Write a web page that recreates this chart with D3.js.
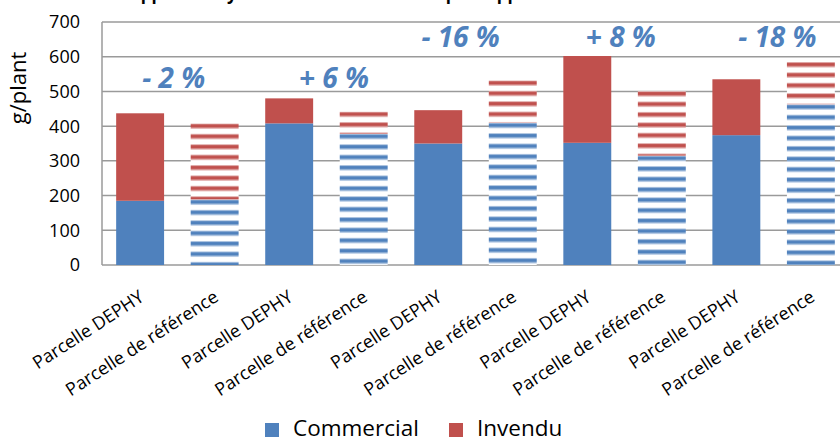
<!DOCTYPE html>
<html><head><meta charset="utf-8">
<script src="https://cdn.jsdelivr.net/npm/d3@7"></script>
<style>
body{margin:0;background:#fff;}
svg{display:block;font-family:"Open Sans","Noto Sans",sans-serif;}
</style></head>
<body><svg id="c" width="840" height="439"></svg>
<script>
const categories = ["Parcelle DEPHY","Parcelle de référence","Parcelle DEPHY","Parcelle de référence","Parcelle DEPHY","Parcelle de référence","Parcelle DEPHY","Parcelle de référence","Parcelle DEPHY","Parcelle de référence"];
const isReference = [false,true,false,true,false,true,false,true,false,true];
const commercial = [185,189,408,378,350,410,352,315,374,463];
const invendu = [252,219,72,64,96,122,250,186,161,122];
const yTicks = [0,100,200,300,400,500,600,700];
const diffLabels = ["- 2 %","+ 6 %","- 16 %","+ 8 %","- 18 %"];
const diffLabelValues = [510,510,628,628,628];
const diffLabelPos = [0.45,2.6,4.3,6.45,8.55];
const seriesNames = ["Commercial","Invendu"];
const colors = ["#4F81BD","#C0504D"];
const title = "Apport du système de culture DEPHY par rapport à la référence";

const svg = d3.select("#c");
const x = d3.scaleBand().domain(d3.range(categories.length)).range([102,849]).paddingInner(0.357).paddingOuter(0.19);
const y = d3.scaleLinear().domain([0,700]).range([265,22]);
const xc = d3.scaleLinear().domain([0,categories.length-1]).range([x(0)+x.bandwidth()/2, x(categories.length-1)+x.bandwidth()/2]);

const defs = svg.append("defs");
const period = 10.4;
function stripePattern(id, c, y0){
  const p = defs.append("pattern").attr("id",id).attr("patternUnits","userSpaceOnUse")
    .attr("width",20).attr("height",period).attr("y",y0);
  p.append("rect").attr("width",20).attr("height",period).attr("fill","#fff");
  p.append("rect").attr("y",0).attr("width",20).attr("height",1).attr("fill",c).attr("opacity",0.45);
  p.append("rect").attr("y",1).attr("width",20).attr("height",3.4).attr("fill",c);
  p.append("rect").attr("y",4.4).attr("width",20).attr("height",1.2).attr("fill",c).attr("opacity",0.4);
}

// title (cropped at top)
svg.append("text").attr("x",397).attr("y",0).attr("text-anchor","middle")
  .attr("font-size",17).attr("font-weight","bold").attr("fill","#000").text(title);

// gridlines
svg.append("g").selectAll("line").data(yTicks).join("line")
  .attr("x1",102).attr("x2",840).attr("y1",d=>y(d)).attr("y2",d=>y(d))
  .attr("stroke","#9a9a9a").attr("stroke-width",1.5);
svg.append("line").attr("x1",102).attr("x2",102).attr("y1",y(700)).attr("y2",y(0))
  .attr("stroke","#9a9a9a").attr("stroke-width",1.5);

// y axis labels
svg.append("g").selectAll("text").data(yTicks).join("text")
  .attr("x",80).attr("y",d=>y(d)).attr("dy","0.36em").attr("text-anchor","end")
  .attr("font-size",18).attr("fill","#000").text(d=>d);
svg.append("text").attr("transform","translate(26,88) rotate(-90)").attr("text-anchor","middle")
  .attr("font-size",22).attr("fill","#000").text("g/plant");

// bars
const data = categories.map((c,i)=>({i, c, ref:isReference[i], v:[commercial[i], invendu[i]]}));
const gb = svg.append("g");
data.forEach(d=>{
  let base = 0;
  d.v.forEach((v,s)=>{
    const top = y(base+v);
    let fill = colors[s];
    if(d.ref){
      const id = `stripe${d.i}_${s}`;
      stripePattern(id, colors[s], top);
      fill = `url(#${id})`;
    }
    gb.append("rect").attr("x",x(d.i)).attr("width",x.bandwidth())
      .attr("y",top).attr("height",y(base)-top).attr("fill", fill);
    base += v;
  });
});

// diff labels
svg.append("g").selectAll("text").data(diffLabels).join("text")
  .attr("x",(d,i)=>xc(diffLabelPos[i])).attr("y",(d,i)=>y(diffLabelValues[i]))
  .attr("text-anchor","middle").attr("font-size",28).attr("font-weight","bold").attr("font-style","italic")
  .attr("fill","#4F81BD").text(d=>d);

// x labels
svg.append("g").selectAll("text").data(data).join("text")
  .attr("transform",d=>`translate(${x(d.i)+x.bandwidth()/2+5},300) rotate(-33)`)
  .attr("text-anchor","end").attr("font-size",18).attr("fill","#000").text(d=>d.c);

// legend
const lg = svg.append("g");
const legX = [265,449];
seriesNames.forEach((n,i)=>{
  lg.append("rect").attr("x",legX[i]).attr("y",423).attr("width",14).attr("height",14).attr("fill",colors[i]);
  lg.append("text").attr("x",legX[i]+28).attr("y",436).attr("font-size",22.5).attr("fill","#000").text(n);
});
</script></body></html>
